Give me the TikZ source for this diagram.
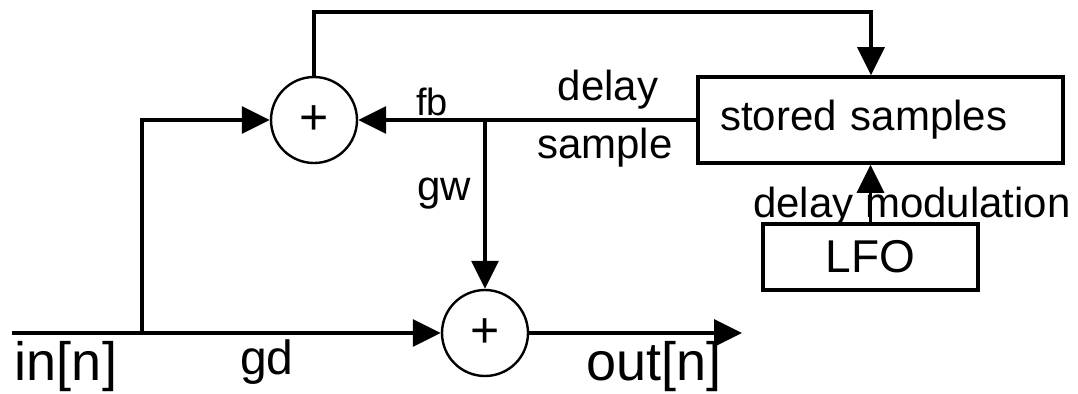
\documentclass[tikz,border=0pt]{standalone}
\usepackage{fontspec}
\setmainfont{Liberation Sans}
\usetikzlibrary{arrows.meta}
\tikzset{
	sumnode/.style={draw, circle, line width=1.2pt, minimum size=43pt, inner sep=0pt, font=\fontsize{25}{25}\selectfont},
	blockbox/.style={draw, rectangle, line width=1.8pt, inner sep=0pt},
	sig/.style={line width=1.7pt},
	sigarr/.style={sig, -{Triangle[length=14pt,width=13.5pt]}},
	lbl/.style={inner sep=0pt, anchor=base, font=\fontsize{21}{21}\selectfont}
}

\begin{document}
\begin{tikzpicture}[x=0.5pt, y=-0.5pt]
		%%%%% START %%%%%
		
		\useasboundingbox (0, 0) rectangle (1078, 393);
		
		\node[sumnode] (sumfb) at (314, 120) {+};
		\node[sumnode] (sumout) at (485, 333) {+};
		
		\node[blockbox, minimum height=43pt, inner xsep=11pt, text width=160.5pt, align=left, font=\fontsize{21}{21}\selectfont] (store) at (880.5, 120) {stored samples};
		\node[blockbox, minimum width=107.5pt, minimum height=33pt, font=\fontsize{23}{23}\selectfont] (lfo) at (870.5, 257) {LFO};
		
		\coordinate (in) at (12, 333);
		\coordinate (split) at (142, 333);
		\coordinate (tapfb) at (485, 120);
		\coordinate (tapst) at (871, 12);
		\coordinate (out) at (742, 333);
		
		\draw[sigarr] (in) -- (sumout.west);
		\draw[sigarr] (split) |- (sumfb.west);
		\draw[sigarr] (store.west) -- (sumfb.east);
		\draw[sigarr] (tapfb) -- (sumout.north);
		\draw[sigarr] (sumout.east) -- (out);
		\draw[sigarr] (sumfb.north) |- (tapst) -- (tapst |- store.north);
		\draw[sigarr] (lfo.north) -- (lfo.north |- store.south);
		
		\node[lbl, font=\fontsize{19}{19}\selectfont] (lblfb) at (432, 115) {fb};
		\node[lbl] (lbldelay) at (608, 100) {delay};
		\node[lbl] (lblsample) at (605, 158) {sample};
		\node[lbl] (lblgw) at (444, 200) {gw};
		\node[lbl] (lblmod) at (912, 217) {delay modulation};
		\node[lbl, font=\fontsize{27}{27}\selectfont] (lblin) at (66, 380) {in[n]};
		\node[lbl, font=\fontsize{24}{24}\selectfont] (lblgd) at (267, 374) {gd};
		\node[lbl, font=\fontsize{27}{27}\selectfont] (lblout) at (654, 380) {out[n]};
		
		%%%%% END %%%%%
	\end{tikzpicture}
\end{document}
